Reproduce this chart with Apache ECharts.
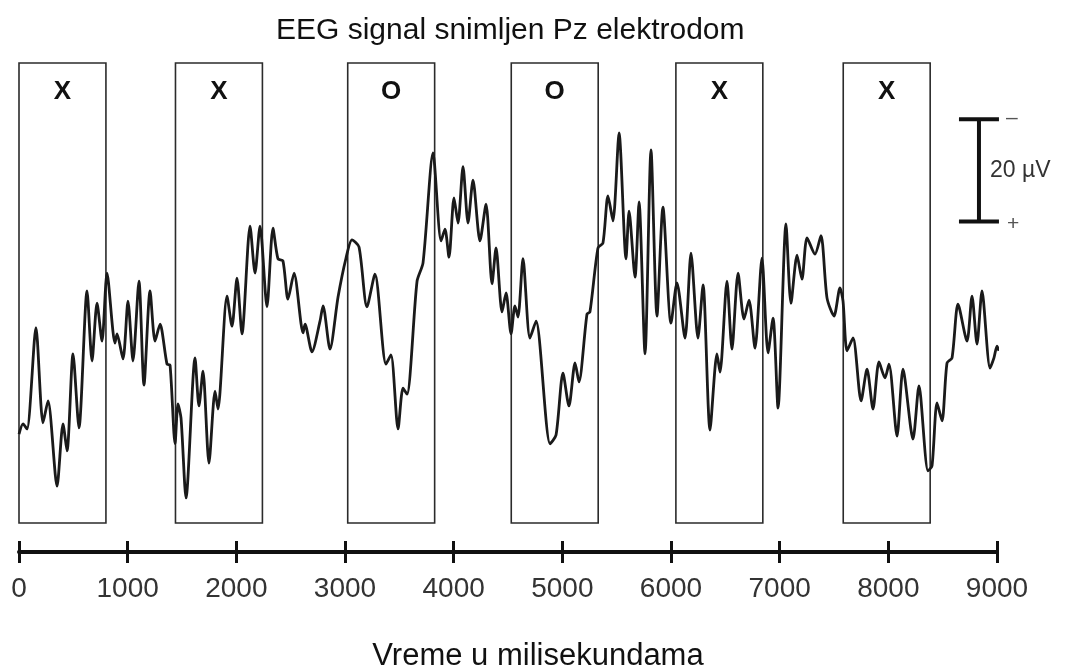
<!DOCTYPE html>
<html>
<head>
<meta charset="utf-8">
<script src="https://cdn.jsdelivr.net/npm/echarts@6/dist/echarts.min.js"></script>
<style>
  html, body { margin: 0; padding: 0; background: #fff; }
  #eegChart { width: 1076px; height: 670px; }
</style>
</head>
<body>
<div id="eegChart"></div>
<script>
// vreme u ms i amplituda u µV (pozitivno nadole, kao na slici)
const eegTimeMs = [
  0, 37, 74, 156, 221, 267, 350, 405, 442, 497,
  552, 626, 672, 718, 764, 810, 883, 902, 957, 1003,
  1049, 1104, 1150, 1206, 1252, 1298, 1362, 1390, 1436, 1463,
  1491, 1537, 1620, 1656, 1693, 1748, 1804, 1831, 1914, 1960,
  2006, 2052, 2126, 2172, 2218, 2282, 2337, 2383, 2429, 2475,
  2531, 2614, 2632, 2696, 2770, 2798, 2862, 2936, 3009, 3064,
  3129, 3202, 3276, 3377, 3423, 3488, 3534, 3571, 3663, 3718,
  3810, 3884, 3920, 3957, 4003, 4040, 4086, 4132, 4178, 4242,
  4298, 4353, 4390, 4445, 4482, 4528, 4564, 4592, 4638, 4702,
  4758, 4887, 4942, 5006, 5061, 5117, 5153, 5227, 5254, 5328,
  5374, 5420, 5466, 5522, 5586, 5614, 5669, 5706, 5761, 5816,
  5871, 5926, 6000, 6055, 6129, 6184, 6248, 6295, 6359, 6423,
  6451, 6515, 6561, 6617, 6672, 6718, 6773, 6837, 6893, 6939,
  6985, 7058, 7104, 7160, 7205, 7252, 7325, 7380, 7436, 7500,
  7555, 7583, 7620, 7675, 7749, 7804, 7859, 7914, 7969, 8006,
  8080, 8135, 8227, 8282, 8365, 8402, 8448, 8494, 8540, 8586,
  8641, 8724, 8770, 8816, 8862, 8936, 8972, 9000, 9018
];
const eegMicroVolt = [
  27.6, 25.6, 26.6, 6.8, 25.4, 21.1, 37.8, 25.6, 30.9, 11.9,
  26.4, -0.4, 13.3, 2.0, 9.4, -3.9, 9.8, 8.0, 12.9, 1.6,
  13.3, -2.3, 18.0, -0.4, 9.4, 6.1, 13.9, 14.1, 29.5, 21.7,
  24.5, 40.1, 12.7, 22.1, 15.3, 33.3, 19.2, 22.7, 0.6, 6.5,
  -2.9, 8.0, -13.1, -3.9, -13.1, 2.7, -12.7, -6.7, -6.3, 1.2,
  -3.9, 7.8, 6.1, 11.5, 5.5, 2.5, 11.0, 0.8, -6.8, -10.4,
  -9.0, 2.7, -3.7, 13.9, 12.1, 26.6, 18.6, 19.8, -2.3, -5.9,
  -27.4, -10.2, -12.5, -7.0, -18.6, -13.7, -24.7, -13.7, -22.1, -10.2,
  -17.4, -1.8, -8.8, 3.7, 0, 8.0, 2.5, 4.7, -6.7, 8.8,
  5.5, 29.5, 27.8, 15.7, 22.1, 13.7, 17.4, 4.1, 3.7, -8.8,
  -9.8, -19.0, -14.1, -31.3, -6.7, -16.0, -3.1, -17.8, 11.9, -28.0,
  4.5, -16.8, 5.9, -2.0, 8.8, -7.8, 8.8, -1.6, 26.8, 11.9,
  15.5, -2.3, 11.0, -3.9, 5.1, 1.4, 10.8, -6.8, 11.7, 4.9,
  22.5, -13.5, 2.0, -7.4, -2.7, -10.8, -7.6, -11.2, 1.0, 4.5,
  -1.0, 1.6, 11.3, 8.8, 21.1, 14.9, 22.7, 13.5, 16.6, 13.9,
  28.0, 14.9, 28.6, 18.2, 34.8, 33.8, 21.5, 25.0, 13.7, 12.7,
  2.2, 9.4, 0.6, 10.0, -0.4, 14.7, 12.7, 10.4, 11.3
];

// prozori stimulusa (pocetak u ms, trajanje 800 ms) i oznake
const stimulusStart = [0, 1440, 3025, 4530, 6045, 7585];
const stimulusLabel = ['X', 'X', 'O', 'O', 'X', 'X'];
const stimulusLength = 800;

// skala 20 µV
const scaleBarTime = 8834;
const scaleBarTop = -34;
const scaleBarSpan = 20;
const scaleCapHalf = 184;

const font = 'Liberation Sans, Arial, sans-serif';

const seriesData = eegTimeMs.map((t, i) => [t, eegMicroVolt[i]]);

const areas = stimulusStart.map((s, i) => [
  { xAxis: s, name: stimulusLabel[i] },
  { xAxis: s + stimulusLength }
]);

const myChart = echarts.init(document.getElementById('eegChart'));

const option = {
  animation: false,
  backgroundColor: '#ffffff',
  title: {
    text: 'EEG signal snimljen Pz elektrodom',
    left: 271,
    top: 11,
    textStyle: { fontFamily: font, fontSize: 30, fontWeight: 'normal', color: '#111' }
  },
  grid: { left: 19, right: 79, top: 63, bottom: 147, outerBoundsMode: 'none', containLabel: false },
  xAxis: [
    {
      type: 'value', min: 0, max: 9000, interval: 1000,
      position: 'bottom', offset: 29,
      name: 'Vreme u milisekundama',
      nameLocation: 'middle', nameGap: 89,
      nameTextStyle: { fontFamily: font, fontSize: 31, color: '#111', padding: [0, 0, 0, 60] },
      axisLine: { show: true, onZero: false, lineStyle: { color: '#111', width: 4 } },
      axisTick: { show: true, length: 11, lineStyle: { color: '#111', width: 3 } },
      axisLabel: {
        margin: 23, fontFamily: font, fontSize: 28, color: '#333',
        formatter: v => String(v)
      },
      splitLine: { show: false }
    },
    {
      type: 'value', min: 0, max: 9000, interval: 1000,
      position: 'bottom', offset: 29,
      axisLine: { show: false, onZero: false },
      axisTick: { show: true, inside: true, length: 11, lineStyle: { color: '#111', width: 3 } },
      axisLabel: { show: false },
      splitLine: { show: false }
    }
  ],
  yAxis: {
    type: 'value', min: -45, max: 45, inverse: true, show: false
  },
  series: [
    {
      name: 'EEG Pz',
      type: 'line',
      data: seriesData,
      smooth: 0.25,
      showSymbol: false,
      clip: false,
      silent: true,
      lineStyle: { color: '#1a1a1a', width: 2.8 },
      markArea: {
        silent: true,
        itemStyle: { color: 'rgba(0,0,0,0)', borderColor: '#2b2b2b', borderWidth: 1.6 },
        label: {
          show: true, position: 'insideTop', distance: 17,
          fontFamily: font, fontSize: 26, fontWeight: 'bold', color: '#111'
        },
        data: areas
      }
    }
  ]
};

myChart.setOption(option);

// skala se crta preko istih osa (µV -> piksel)
const toPx = (t, v) => myChart.convertToPixel({ xAxisIndex: 0, yAxisIndex: 0 }, [t, v]);
const barBottom = scaleBarTop + scaleBarSpan;
const pTop = toPx(scaleBarTime, scaleBarTop);
const pBot = toPx(scaleBarTime, barBottom);
const capL = toPx(scaleBarTime - scaleCapHalf, scaleBarTop)[0];
const capR = toPx(scaleBarTime + scaleCapHalf, scaleBarTop)[0];
const barStyle = { stroke: '#111', lineWidth: 4 };

myChart.setOption({
  graphic: [
    { type: 'line', silent: true, shape: { x1: pTop[0], y1: pTop[1], x2: pBot[0], y2: pBot[1] }, style: barStyle },
    { type: 'line', silent: true, shape: { x1: capL, y1: pTop[1], x2: capR, y2: pTop[1] }, style: barStyle },
    { type: 'line', silent: true, shape: { x1: capL, y1: pBot[1], x2: capR, y2: pBot[1] }, style: barStyle },
    {
      type: 'text', silent: true, x: pTop[0] + 11, y: (pTop[1] + pBot[1]) / 2,
      style: { text: '20 µV', font: '23px ' + font, fill: '#333', verticalAlign: 'middle' }
    },
    {
      type: 'text', silent: true, x: capR + 7, y: pTop[1] - 1,
      style: { text: '–', font: '21px ' + font, fill: '#555', verticalAlign: 'middle' }
    },
    {
      type: 'text', silent: true, x: capR + 8, y: pBot[1] + 3,
      style: { text: '+', font: '21px ' + font, fill: '#555', verticalAlign: 'middle' }
    }
  ]
});
</script>
</body>
</html>
